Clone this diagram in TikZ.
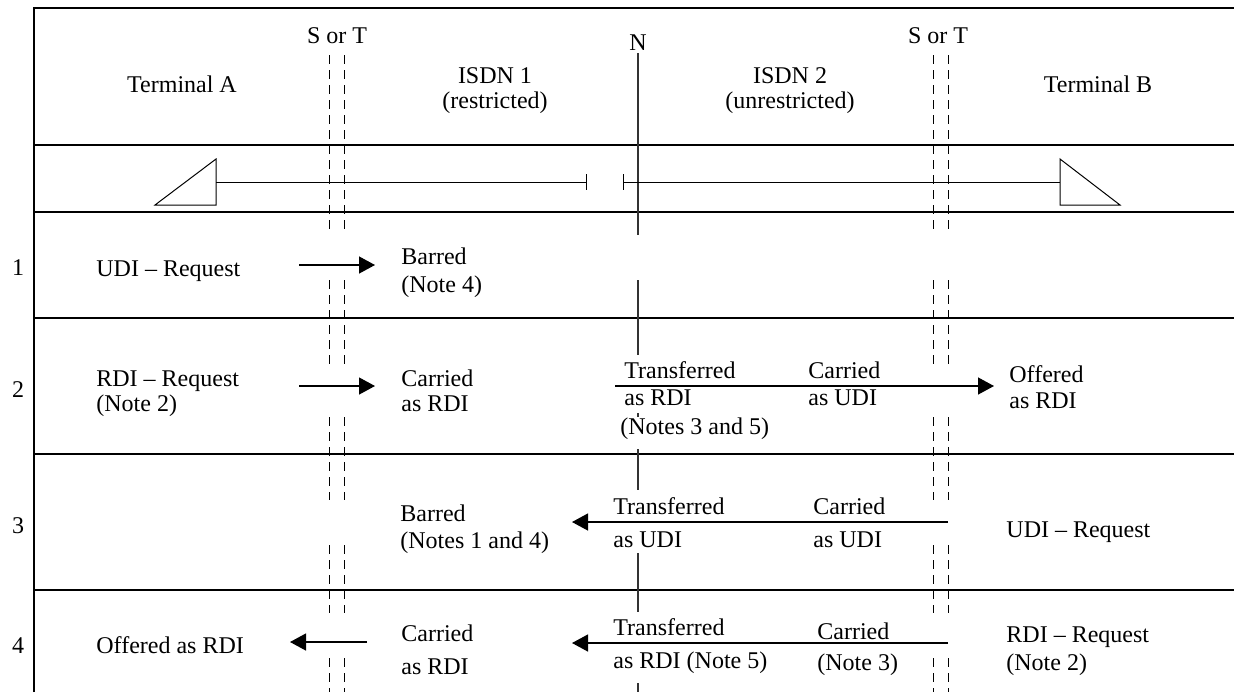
\documentclass[tikz,border=0pt]{standalone}
\usepackage{fontspec}
\setmainfont{Liberation Serif}
\usetikzlibrary{arrows.meta}
\begin{document}
\begin{tikzpicture}[x=0.5pt,y=-0.5pt,
  txt/.style={inner sep=0pt,font=\fontsize{12}{12.5}\selectfont},
  lt/.style={txt,anchor=base west},
  ct/.style={txt,anchor=base},
  frame/.style={line width=0.8pt},
  stdash/.style={line width=0.5pt,dash pattern=on 4.5pt off 3pt},
  nline/.style={line width=0.7pt,black!80},
  thin/.style={line width=0.5pt},
  msg/.style={line width=0.65pt,-{Triangle[length=8pt,width=8.5pt]}}]
\useasboundingbox (0,0) rectangle (1234,692);
% frame
\draw[frame] (34,692) -- (34,8) -- (1234,8);
\foreach \yy in {145,212,318,454,590}{\draw[frame] (34,\yy) -- (1234,\yy);}
% S or T dashed reference lines
\foreach \xx in {329,344,933,948}{
  \foreach \ya/\yb in {55/235,280/370,417/500,545/613,658/692}{
    \draw[stdash] (\xx,\ya) -- (\xx,\yb);}}
% N line
\foreach \ya/\yb in {53/235,280/355,413/417,449/490,553/612,683/692}{
  \draw[nline] (638,\ya) -- (638,\yb);}
% header
\node[ct] (st1) at (337,43) {S or T};
\node[ct] (st2) at (938,43) {S or T};
\node[ct] (nn) at (638,50) {N};
\node[ct] (ta) at (182,92) {Terminal A};
\node[ct] (i1a) at (495,83) {ISDN 1};
\node[ct] (i1b) at (495,108) {(restricted)};
\node[ct] (i2a) at (790,83) {ISDN 2};
\node[ct] (i2b) at (790,108) {(unrestricted)};
\node[ct] (tb) at (1098,92) {Terminal B};
% connection row
\draw[thin] (216,182) -- (216,159) -- (155,205) -- (216,205) -- cycle;
\coordinate (c1) at (216,182);
\coordinate (c2) at (586,182);
\coordinate (c3) at (623,182);
\coordinate (c4) at (1060,182);
\draw[thin] (c1) -- (c2);
\draw[thin] (586,174) -- (586,190);
\draw[thin] (623,174) -- (623,190);
\draw[thin] (c3) -- (c4);
\draw[thin] (1060,182) -- (1060,159) -- (1120,205) -- (1060,205) -- cycle;
% row numbers
\node[ct] (n1) at (18,275) {1};
\node[ct] (n2) at (18,397) {2};
\node[ct] (n3) at (18,533) {3};
\node[ct] (n4) at (18,653) {4};
% row 1
\node[lt] (r1a) at (96,276) {UDI – Request};
\node[lt] (r1b) at (401,264) {Barred};
\node[lt] (r1c) at (401,292) {(Note 4)};
\coordinate (a1s) at (299,265);
\coordinate (a1e) at (375,265);
\draw[msg] (a1s) -- (a1e);
% row 2
\node[lt] (r2a) at (96,386) {RDI – Request};
\node[lt] (r2b) at (96,411) {(Note 2)};
\node[lt] (r2c) at (401,386) {Carried};
\node[lt] (r2d) at (401,411) {as RDI};
\node[lt] (r2e) at (624,378) {Transferred};
\node[lt] (r2f) at (624,405) {as RDI};
\node[lt] (r2g) at (620,434) {(Notes 3 and 5)};
\node[lt] (r2h) at (808,378) {Carried};
\node[lt] (r2i) at (808,405) {as UDI};
\node[lt] (r2j) at (1009,382) {Offered};
\node[lt] (r2k) at (1009,408) {as RDI};
\coordinate (a2s) at (299,386);
\coordinate (a2e) at (375,386);
\draw[msg] (a2s) -- (a2e);
\coordinate (a3s) at (615,386);
\coordinate (a3e) at (994,386);
\draw[msg] (a3s) -- (a3e);
% row 3
\node[lt] (r3a) at (400,521) {Barred};
\node[lt] (r3b) at (400,548) {(Notes 1 and 4)};
\node[lt] (r3c) at (613,514) {Transferred};
\node[lt] (r3d) at (613,547) {as UDI};
\node[lt] (r3e) at (813,514) {Carried};
\node[lt] (r3f) at (813,547) {as UDI};
\node[lt] (r3g) at (1006,537) {UDI – Request};
\coordinate (a4s) at (948,522);
\coordinate (a4e) at (572,522);
\draw[msg] (a4s) -- (a4e);
% row 4
\node[lt] (r4a) at (96,653) {Offered as RDI};
\node[lt] (r4b) at (401,641) {Carried};
\node[lt] (r4c) at (401,674) {as RDI};
\node[lt] (r4d) at (613,635) {Transferred};
\node[lt] (r4e) at (613,668) {as RDI (Note 5)};
\node[lt] (r4f) at (817,639) {Carried};
\node[lt] (r4g) at (817,670) {(Note 3)};
\node[lt] (r4h) at (1006,642) {RDI – Request};
\node[lt] (r4i) at (1006,670) {(Note 2)};
\coordinate (a5s) at (367,642);
\coordinate (a5e) at (290,642);
\draw[msg] (a5s) -- (a5e);
\coordinate (a6s) at (948,643);
\coordinate (a6e) at (572,643);
\draw[msg] (a6s) -- (a6e);
\end{tikzpicture}
\end{document}
